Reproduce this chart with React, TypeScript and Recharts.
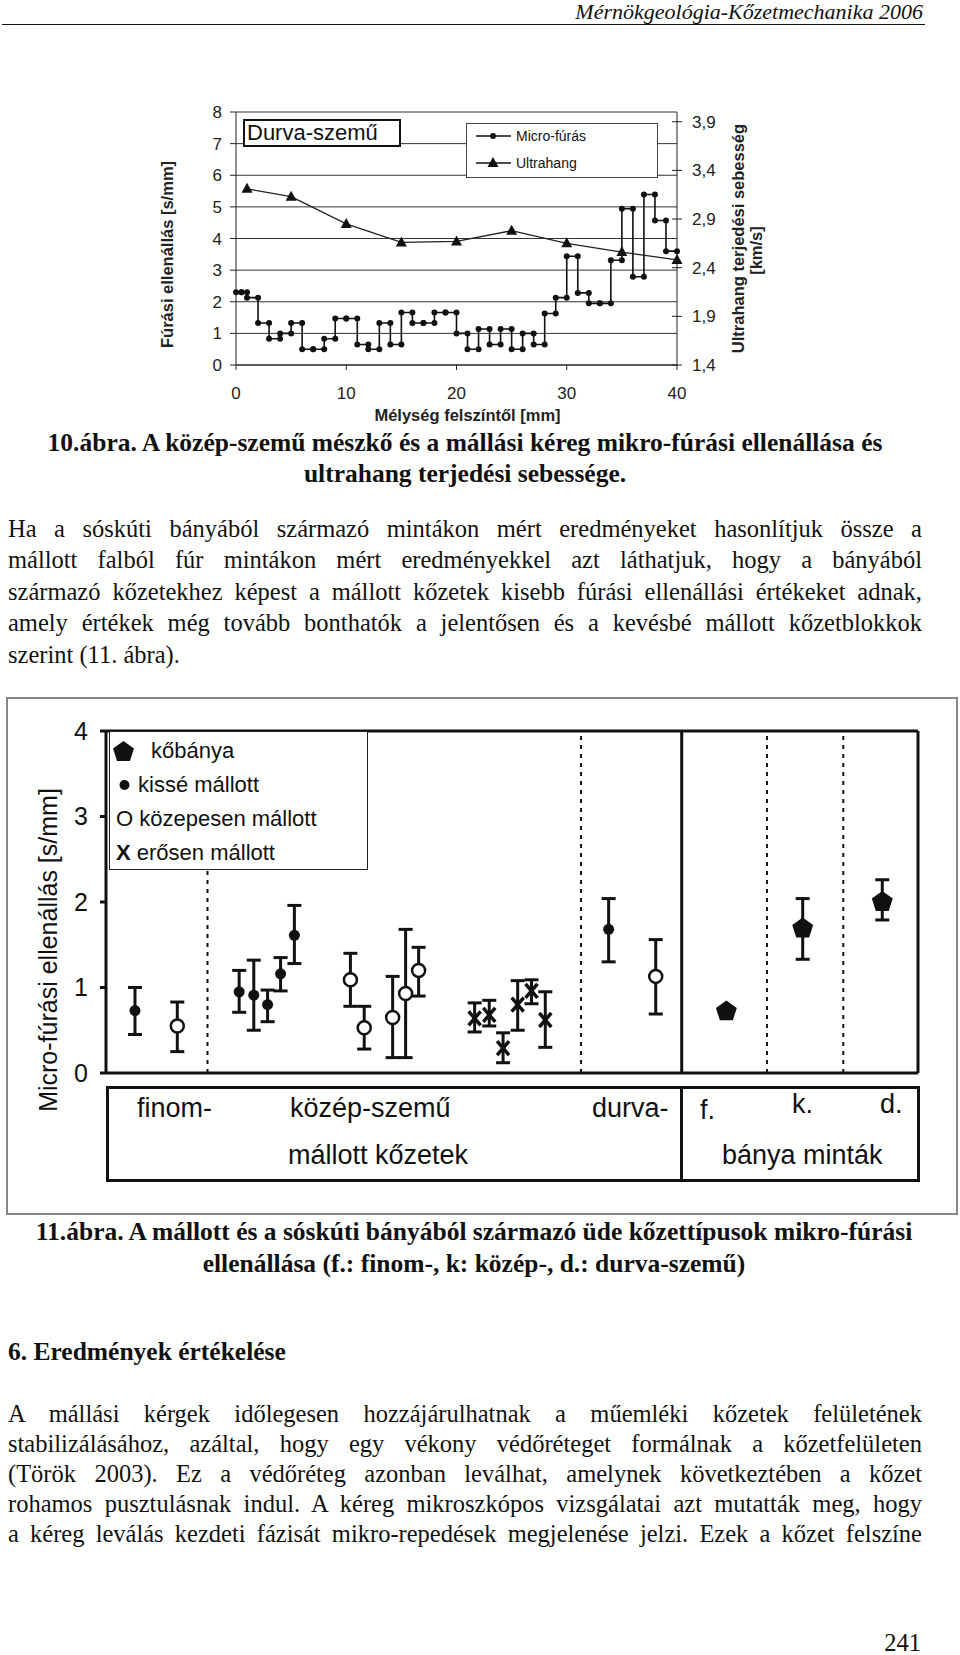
import React from "react";
import {
  ComposedChart,
  Line,
  XAxis,
  YAxis,
  CartesianGrid,
  Label,
  ScatterChart,
  Scatter,
  ErrorBar,
  ReferenceLine,
} from "recharts";

const SANS = "'Liberation Sans', Arial, sans-serif";
const SERIF = "'Liberation Serif', 'Times New Roman', serif";
const INK = "#111";

// 10. ábra: micro-fúrás, lépcsőnként (mélység-határ mm, ellenállás s/mm)
const microEdges = [
  0, 0.5, 1, 2, 3, 4, 5, 6, 7, 8, 9, 10, 11, 12, 13, 14, 15, 16, 17, 18, 19, 20,
  21, 22, 23, 24, 25, 26, 27, 28, 29, 30, 31, 32, 33, 34, 35, 36, 37, 38, 39, 40,
];
const microValues = [
  2.3, 2.3, 2.13, 1.33, 0.83, 1.0, 1.33, 0.5, 0.5, 0.83, 1.47, 1.47, 0.65, 0.5,
  1.33, 0.65, 1.66, 1.33, 1.33, 1.66, 1.66, 1.0, 0.5, 1.14, 0.65, 1.14, 0.5, 1.0,
  0.65, 1.63, 2.13, 3.44, 2.28, 1.95, 1.95, 3.31, 4.94, 2.79, 5.39, 4.57, 3.6,
];

// ultrahang sebesség (km/s)
const ultraDepth = [1, 5, 10, 15, 20, 25, 30, 35, 40];
const ultraSpeed = [3.21, 3.13, 2.85, 2.66, 2.67, 2.78, 2.65, 2.56, 2.48];

const leftTicks = [0, 1, 2, 3, 4, 5, 6, 7, 8];
const rightTicks = [1.4, 1.9, 2.4, 2.9, 3.4, 3.9];
const depthTicks = [0, 10, 20, 30, 40];

// 11. ábra: minták helye a tengelyen (0-100), középérték, alsó / felső határ
const kissePos = [3.57, 16.4, 18.2, 19.9, 21.5, 23.2, 61.9];
const kisseVal = [0.73, 0.95, 0.91, 0.8, 1.16, 1.61, 1.68];
const kisseLow = [0.45, 0.71, 0.5, 0.6, 0.96, 1.28, 1.3];
const kisseHigh = [1.0, 1.2, 1.32, 0.97, 1.35, 1.96, 2.04];

const kozepPos = [8.78, 30.1, 31.8, 35.3, 36.9, 38.5, 67.7];
const kozepVal = [0.55, 1.09, 0.53, 0.65, 0.93, 1.2, 1.13];
const kozepLow = [0.25, 0.78, 0.28, 0.18, 0.18, 0.9, 0.69];
const kozepHigh = [0.83, 1.4, 0.78, 1.13, 1.68, 1.47, 1.56];

const erosPos = [45.4, 47.2, 48.9, 50.7, 52.4, 54.1];
const erosVal = [0.64, 0.68, 0.29, 0.8, 0.96, 0.62];
const erosLow = [0.48, 0.55, 0.12, 0.5, 0.81, 0.3];
const erosHigh = [0.82, 0.85, 0.47, 1.08, 1.09, 0.95];

const banyaPos = [76.4, 85.8, 95.6];
const banyaVal = [0.72, 1.69, 2.0];
const banyaLow = [0.72, 1.33, 1.79];
const banyaHigh = [0.72, 2.04, 2.26];

const dottedDividers = [12.5, 58.5, 81.4, 90.8];
const solidDivider = 70.9;
const resistTicks = [0, 1, 2, 3, 4];

const microPoints = microValues.flatMap((v, i) => [
  { depth: microEdges[i], micro: v },
  { depth: microEdges[i + 1], micro: v },
]);
const ultraPoints = ultraDepth.map((d, i) => ({ depth: d, ultra: ultraSpeed[i] }));

const withErr = (pos: number[], val: number[], low: number[], high: number[]) =>
  pos.map((x, i) => ({ x, y: val[i], err: [val[i] - low[i], high[i] - val[i]] }));

const kisseData = withErr(kissePos, kisseVal, kisseLow, kisseHigh);
const kozepData = withErr(kozepPos, kozepVal, kozepLow, kozepHigh);
const erosData = withErr(erosPos, erosVal, erosLow, erosHigh);
const banyaData = withErr(banyaPos, banyaVal, banyaLow, banyaHigh);

const comma = (v: number) => v.toFixed(1).replace(".", ",");

function pentagon(cx: number, cy: number, r: number) {
  return [0, 1, 2, 3, 4]
    .map((k) => {
      const a = ((-90 + 72 * k) * Math.PI) / 180;
      return `${cx + r * Math.cos(a)},${cy + r * Math.sin(a)}`;
    })
    .join(" ");
}

const Triangle = (p: any) => (
  <path
    key={p.index}
    d={`M${p.cx},${p.cy - 6} L${p.cx + 5.5},${p.cy + 4} L${p.cx - 5.5},${p.cy + 4} Z`}
    fill={INK}
  />
);

const RightTick = (p: any) => (
  <g>
    <line x1={p.x - 5} x2={p.x + 5} y1={p.y} y2={p.y} stroke="#222" />
    <text x={p.x + 15} y={p.y} dy={6} fontSize={17} fill="#222" fontFamily={SANS}>
      {comma(p.payload.value)}
    </text>
  </g>
);

const FilledDot = (p: any) => <circle cx={p.cx} cy={p.cy} r={5.5} fill={INK} />;
const OpenDot = (p: any) => (
  <circle cx={p.cx} cy={p.cy} r={6.5} fill="#fff" stroke={INK} strokeWidth={2.5} />
);
const Cross = (p: any) => (
  <g stroke={INK} strokeWidth={3.5}>
    <line x1={p.cx - 6} y1={p.cy - 7} x2={p.cx + 6} y2={p.cy + 7} />
    <line x1={p.cx + 6} y1={p.cy - 7} x2={p.cx - 6} y2={p.cy + 7} />
  </g>
);
const Pentagon = (p: any) => <polygon points={pentagon(p.cx, p.cy, 11)} fill={INK} />;

const titleStyle = { fontSize: 16.5, fontWeight: "bold", fill: "#222", fontFamily: SANS };

function DepthChart() {
  return (
    <ComposedChart width={650} height={330} margin={{ top: 17, right: 0, bottom: 0, left: 0 }}>
      <CartesianGrid vertical={false} stroke="#333" yAxisId="left" />
      <XAxis
        dataKey="depth"
        type="number"
        domain={[0, 40]}
        ticks={depthTicks}
        height={60}
        tickSize={5}
        tickMargin={17}
        stroke="#222"
        tick={{ fontSize: 17, fill: "#222", fontFamily: SANS }}
      >
        <Label value="Mélység felszíntől [mm]" position="center" dx={11} dy={20} style={titleStyle} />
      </XAxis>
      <YAxis
        yAxisId="left"
        domain={[0, 8]}
        ticks={leftTicks}
        interval={0}
        width={96}
        tickSize={6}
        tickMargin={8}
        stroke="#222"
        tick={{ fontSize: 17, fill: "#222", fontFamily: SANS }}
      >
        <Label
          value="Fúrási ellenállás [s/mm]"
          position="center"
          angle={-90}
          dx={-21}
          dy={16}
          style={titleStyle}
        />
      </YAxis>
      <YAxis
        yAxisId="right"
        orientation="right"
        domain={[1.4, 4.0]}
        ticks={rightTicks}
        interval={0}
        width={113}
        tickSize={0}
        tickMargin={0}
        stroke="#222"
        tick={RightTick}
      >
        <Label
          value="Ultrahang terjedési sebesség"
          position="center"
          angle={-90}
          dx={5}
          dy={0}
          style={titleStyle}
        />
        <Label value="[km/s]" position="center" angle={-90} dx={23} dy={12} style={titleStyle} />
      </YAxis>
      <Line
        yAxisId="left"
        data={microPoints}
        dataKey="micro"
        type="linear"
        stroke={INK}
        strokeWidth={1.6}
        dot={{ r: 3, fill: INK, stroke: INK, strokeWidth: 0 }}
        isAnimationActive={false}
      />
      <Line
        yAxisId="right"
        data={ultraPoints}
        dataKey="ultra"
        type="linear"
        stroke="#222"
        strokeWidth={1.3}
        dot={Triangle}
        isAnimationActive={false}
      />
    </ComposedChart>
  );
}

function ResistanceChart() {
  return (
    <ScatterChart width={952} height={500} margin={{ top: 34, right: 40, bottom: 120, left: 0 }}>
      <XAxis
        dataKey="x"
        type="number"
        domain={[0, 100]}
        height={4}
        tick={false}
        tickLine={false}
        axisLine={{ stroke: INK, strokeWidth: 3 }}
      />
      <YAxis
        dataKey="y"
        type="number"
        domain={[0, 4]}
        ticks={resistTicks}
        interval={0}
        width={100}
        tickSize={6}
        tickMargin={12}
        axisLine={{ stroke: INK, strokeWidth: 3 }}
        tickLine={{ stroke: INK, strokeWidth: 3 }}
        tick={{ fontSize: 25, fill: INK, fontFamily: SANS }}
      >
        <Label
          value="Micro-fúrási ellenállás [s/mm]"
          position="center"
          angle={-90}
          dx={-8}
          dy={48}
          style={{ fontSize: 25, fill: INK, fontFamily: SANS }}
        />
      </YAxis>
      <ReferenceLine y={4} stroke={INK} strokeWidth={3} />
      <ReferenceLine x={100} stroke={INK} strokeWidth={3} />
      <ReferenceLine x={solidDivider} stroke={INK} strokeWidth={3} />
      {dottedDividers.map((d) => (
        <ReferenceLine key={d} x={d} stroke={INK} strokeWidth={2} strokeDasharray="4 5" />
      ))}
      <Scatter data={kisseData} shape={FilledDot} isAnimationActive={false}>
        <ErrorBar dataKey="err" direction="y" width={7} stroke={INK} strokeWidth={3} />
      </Scatter>
      <Scatter data={kozepData} shape={OpenDot} isAnimationActive={false}>
        <ErrorBar dataKey="err" direction="y" width={7} stroke={INK} strokeWidth={3} />
      </Scatter>
      <Scatter data={erosData} shape={Cross} isAnimationActive={false}>
        <ErrorBar dataKey="err" direction="y" width={7} stroke={INK} strokeWidth={3} />
      </Scatter>
      <Scatter data={banyaData} shape={Pentagon} isAnimationActive={false}>
        <ErrorBar dataKey="err" direction="y" width={7} stroke={INK} strokeWidth={3} />
      </Scatter>
    </ScatterChart>
  );
}

const abs = (left: number, top: number, extra: React.CSSProperties = {}): React.CSSProperties => ({
  position: "absolute",
  left,
  top,
  ...extra,
});

const justifyLine: React.CSSProperties = { textAlign: "justify", textAlignLast: "justify" };

const para1 = [
  "Ha a sóskúti bányából származó mintákon mért eredményeket hasonlítjuk össze a",
  "mállott falból fúr mintákon mért eredményekkel azt láthatjuk, hogy a bányából",
  "származó kőzetekhez képest a mállott kőzetek kisebb fúrási ellenállási értékeket adnak,",
  "amely értékek még tovább bonthatók a jelentősen és a kevésbé mállott kőzetblokkok",
];
const para2 = [
  "A mállási kérgek időlegesen hozzájárulhatnak a műemléki kőzetek felületének",
  "stabilizálásához, azáltal, hogy egy vékony védőréteget formálnak a kőzetfelületen",
  "(Török 2003). Ez a védőréteg azonban leválhat, amelynek következtében a kőzet",
  "rohamos pusztulásnak indul. A kéreg mikroszkópos vizsgálatai azt mutatták meg, hogy",
  "a kéreg leválás kezdeti fázisát mikro-repedések megjelenése jelzi. Ezek a kőzet felszíne",
];

export default function App() {
  const boxText: React.CSSProperties = { fontFamily: SANS, fontSize: 27, color: INK, lineHeight: "30px" };
  const legText: React.CSSProperties = { fontFamily: SANS, fontSize: 22, color: INK, lineHeight: "26px" };
  return (
    <div
      style={{
        position: "absolute",
        left: 0,
        top: 0,
        width: 960,
        height: 1655,
        background: "#fff",
        fontFamily: SERIF,
        color: INK,
        overflow: "hidden",
      }}
    >
      {/* fejléc */}
      <div style={abs(0, 0, { width: 923, textAlign: "right", fontStyle: "italic", fontSize: 22, lineHeight: "24px" })}>
        Mérnökgeológia-Kőzetmechanika 2006
      </div>
      <div style={abs(2, 24, { width: 923, borderTop: "1.5px solid #111" })} />

      {/* 10. ábra */}
      <div style={abs(140, 95)}>
        <DepthChart />
      </div>
      <div
        style={abs(243, 119, {
          width: 152,
          height: 24,
          border: "2px solid #111",
          background: "#fff",
          fontFamily: SANS,
          fontSize: 22,
          lineHeight: "24px",
          paddingLeft: 2,
          boxSizing: "content-box",
          whiteSpace: "nowrap",
        })}
      >
        Durva-szemű
      </div>
      <div
        style={abs(466, 123, {
          width: 190,
          height: 53,
          border: "1px solid #444",
          background: "#fff",
          fontFamily: SANS,
          fontSize: 14,
        })}
      >
        <svg width={190} height={53} style={{ position: "absolute", left: 0, top: 0 }}>
          <line x1={9} x2={44} y1={12} y2={12} stroke={INK} strokeWidth={1.3} />
          <circle cx={26} cy={12} r={3} fill={INK} />
          <line x1={9} x2={44} y1={39} y2={39} stroke={INK} strokeWidth={1.3} />
          <path d="M26,33 L31.5,43 L20.5,43 Z" fill={INK} />
        </svg>
        <div style={abs(49, 3, { lineHeight: "18px" })}>Micro-fúrás</div>
        <div style={abs(49, 30, { lineHeight: "18px" })}>Ultrahang</div>
      </div>

      <div
        style={abs(8, 427, {
          width: 914,
          textAlign: "center",
          fontWeight: "bold",
          fontSize: 25.5,
          lineHeight: "31px",
        })}
      >
        10.ábra. A közép-szemű mészkő és a mállási kéreg mikro-fúrási ellenállása és
        <br />
        ultrahang terjedési sebessége.
      </div>

      <div style={abs(8, 513, { width: 914, fontSize: 24.5, lineHeight: "31.4px" })}>
        {para1.map((l) => (
          <div key={l} style={justifyLine}>
            {l}
          </div>
        ))}
        <div>szerint (11. ábra).</div>
      </div>

      {/* 11. ábra */}
      <div style={abs(6, 697, { width: 948, height: 514, border: "2px solid #888" })} />
      <div style={abs(6, 697)}>
        <ResistanceChart />
      </div>
      <div
        style={abs(109, 731, {
          width: 257,
          height: 137,
          border: "1.5px solid #222",
          background: "#fff",
        })}
      >
        <svg width={40} height={137} style={{ position: "absolute", left: 0, top: 0 }}>
          <polygon points={pentagon(13.5, 20, 11)} fill={INK} />
          <circle cx={14.5} cy={53} r={5} fill={INK} />
        </svg>
        <div style={abs(41, 6, legText)}>kőbánya</div>
        <div style={abs(28, 40, legText)}>kissé mállott</div>
        <div style={abs(6, 74, legText)}>O közepesen mállott</div>
        <div style={abs(6, 108, legText)}>
          <b>X</b> erősen mállott
        </div>
      </div>

      <div style={abs(106, 1086, { width: 808, height: 90, border: "3px solid #111" })} />
      <div style={abs(680, 1086, { width: 3, height: 96, background: "#111" })} />
      <div style={abs(137, 1093, boxText)}>finom-</div>
      <div style={abs(290, 1093, boxText)}>közép-szemű</div>
      <div style={abs(592, 1093, boxText)}>durva-</div>
      <div style={abs(700, 1095, boxText)}>f.</div>
      <div style={abs(792, 1089, boxText)}>k.</div>
      <div style={abs(880, 1089, boxText)}>d.</div>
      <div style={abs(288, 1140, boxText)}>mállott kőzetek</div>
      <div style={abs(722, 1140, boxText)}>bánya minták</div>

      <div
        style={abs(12, 1216, {
          width: 924,
          textAlign: "center",
          fontWeight: "bold",
          fontSize: 25.5,
          lineHeight: "32px",
        })}
      >
        11.ábra. A mállott és a sóskúti bányából származó üde kőzettípusok mikro-fúrási
        <br />
        ellenállása (f.: finom-, k: közép-, d.: durva-szemű)
      </div>

      <div style={abs(8, 1337, { fontWeight: "bold", fontSize: 25.5, lineHeight: "30px" })}>
        6. Eredmények értékelése
      </div>

      <div style={abs(8, 1399, { width: 914, fontSize: 24.5, lineHeight: "30.1px" })}>
        {para2.map((l) => (
          <div key={l} style={justifyLine}>
            {l}
          </div>
        ))}
      </div>

      <div style={abs(0, 1628, { width: 921, textAlign: "right", fontSize: 24.5, lineHeight: "30px" })}>
        241
      </div>
    </div>
  );
}
